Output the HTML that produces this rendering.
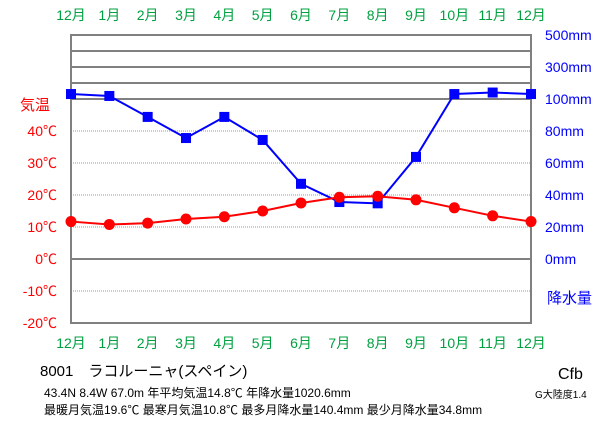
<!DOCTYPE html>
<html><head><meta charset="utf-8"><style>
body{margin:0;background:#fff;}
svg{display:block;font-family:"Liberation Sans","Noto Sans CJK JP",sans-serif;}
</style></head><body>
<svg id="c" width="611" height="425"></svg>
<script>
const months=["12月","1月","2月","3月","4月","5月","6月","7月","8月","9月","10月","11月","12月"];
const temps=[11.7,10.8,11.2,12.5,13.2,15.0,17.5,19.3,19.6,18.5,16.0,13.5,11.7];
const precip=[131,119,88.8,75.6,88.8,74.4,47,35.6,34.8,63.8,131,140.4,131];
const tempTicks=[40,30,20,10,0,-10,-20];
const precipTicks=[80,60,40,20,0];
const precipTopTicks=[100,300,500];
const NS="http://www.w3.org/2000/svg";
const svg=document.getElementById('c');
const x0=71,x1=531;
const xs=i=>x0+(x1-x0)*i/(months.length-1);
const yT=t=>259-t*3.2;
const yP=p=>p<=100?259-p*1.6:99-(p-100)*0.16;
function el(tag,a,txt){const e=document.createElementNS(NS,tag);for(const k in a)e.setAttribute(k,a[k]);if(txt!=null)e.textContent=txt;svg.appendChild(e);return e;}
tempTicks.forEach(t=>{if(t===-20||t===0)return;const l=el('line',{x1:x0,x2:x1,y1:yT(t),y2:yT(t),stroke:'#999','stroke-width':1,'stroke-dasharray':'1,1'});

});
let z=el('line',{x1:x0,x2:x1,y1:yT(0),y2:yT(0),stroke:'#808080','stroke-width':2});


let f=el('rect',{x:x0,y:yP(500),width:x1-x0,height:yT(-20)-yP(500),fill:'none',stroke:'#808080','stroke-width':2});


[200,300,400,100].forEach(p=>{const l=el('line',{x1:x0,x2:x1,y1:yP(p),y2:yP(p),stroke:'#808080','stroke-width':2});

});
months.forEach((m,i)=>{[15,343].forEach(y=>{const t=el('text',{x:xs(i),y:y+5,'text-anchor':'middle','font-size':14,fill:'#00a040'},m);

});});
tempTicks.forEach(t=>{const e=el('text',{x:57,y:yT(t)+5,'text-anchor':'end','font-size':14,fill:'#ff0000'},t+'℃');

});
let tt=el('text',{x:20,y:yP(100)+11,'font-size':15,fill:'#ff0000'},'気温');


precipTicks.concat(precipTopTicks).forEach(p=>{const e=el('text',{x:545,y:yP(p)+5,'font-size':14,fill:'#0000ff'},p+'mm');

});
let pt=el('text',{x:547,y:303,'font-size':15,fill:'#0000ff'},'降水量');


let pl=el('polyline',{points:precip.map((p,i)=>xs(i)+','+yP(p)).join(' '),fill:'none',stroke:'#0000ff','stroke-width':2});


precip.forEach((p,i)=>{const r=el('rect',{x:xs(i)-5,y:yP(p)-5,width:10,height:10,fill:'#0000ff'});

});
let tl=el('polyline',{points:temps.map((t,i)=>xs(i)+','+yT(t)).join(' '),fill:'none',stroke:'#ff0000','stroke-width':2});


temps.forEach((t,i)=>{const c=el('circle',{cx:xs(i),cy:yT(t),r:5.5,fill:'#ff0000'});

});
const info=[[40,376,15,'8001　ラコルーニャ(スペイン)','station-name'],[44,397,12,'43.4N  8.4W  67.0m  年平均気温14.8℃  年降水量1020.6mm','station-info'],[44,414,12,'最暖月気温19.6℃ 最寒月気温10.8℃ 最多月降水量140.4mm 最少月降水量34.8mm','station-stats'],[558,379,16,'Cfb','climate-class'],[535,398,10,'G大陸度1.4','continentality']];
info.forEach(a=>{const e=el('text',{x:a[0],y:a[1],'font-size':a[2],fill:'#000'},a[3]);

});
</script>
</body></html>
